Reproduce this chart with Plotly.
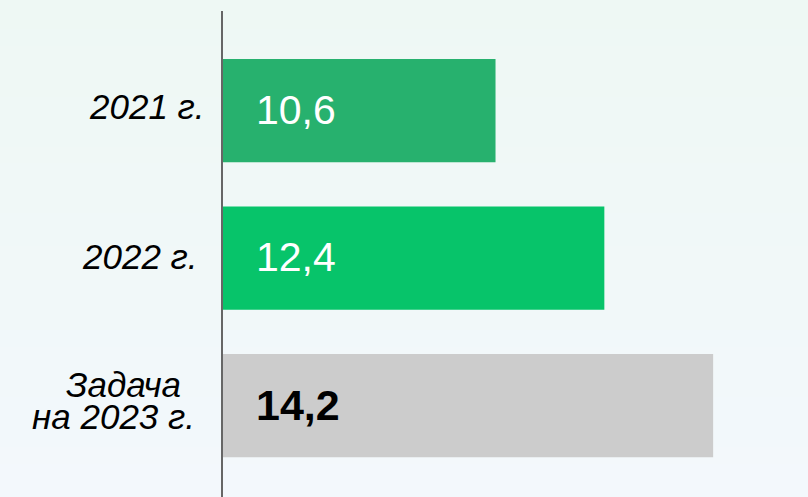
import plotly.graph_objects as go

# ---- data ----
categories = ["2021 г.", "2022 г.", "Задача<br>на 2023 г."]
values = [10.6, 12.4, 14.2]
value_labels = ["10,6", "12,4", "14,2"]

# ---- style ----
bar_colors = ["#27B16E", "#07C46A", "#CCCCCC"]
text_colors = ["#FFFFFF", "#FFFFFF", "#000000"]
text_weights = ["normal", "normal", "bold"]
text_sizes = [41, 41, 43]
# category label placement (pixel offsets from the axis / category centre), per line
label_xshift = [[-16], [-23], [-40, -26]]
label_yshift = [[4], [2], [21, -11]]

X_MIN, X_MAX = 6.092, 15.769
W, H = 808, 497
FONT = "Arial, Liberation Sans, sans-serif"

fig = go.Figure()
fig.add_trace(go.Bar(
    y=categories, x=values, orientation="h",
    marker=dict(color=bar_colors, line=dict(width=0)),
    hoverinfo="skip", showlegend=False,
))

# value labels inside the bars, anchored at the axis start
for cat, lab, col, wt, sz in zip(categories, value_labels, text_colors, text_weights, text_sizes):
    fig.add_annotation(
        x=X_MIN, y=cat, xref="x", yref="y", text=lab, showarrow=False,
        xanchor="left", yanchor="middle", xshift=31, yshift=1,
        font=dict(family=FONT, size=sz, color=col, weight=wt),
    )

# category labels (italic), one annotation per text line
for cat, xs, ys in zip(categories, label_xshift, label_yshift):
    for line, dx, dy in zip(cat.split("<br>"), xs, ys):
        fig.add_annotation(
            x=0, xref="paper", y=cat, yref="y", text=line, showarrow=False,
            xanchor="right", yanchor="middle", xshift=dx, yshift=dy,
            font=dict(family=FONT, size=35, color="#000000", style="italic"),
        )

# subtle vertical background gradient
top = (238, 248, 244)
bot = (243, 248, 252)
n = 30
for i in range(n):
    t = i / (n - 1)
    c = tuple(round(top[k] + (bot[k] - top[k]) * t) for k in range(3))
    y1 = 1.03 - i * (1.03 / n)
    y0 = y1 - 1.03 / n - 0.002
    fig.add_shape(type="rect", xref="paper", yref="paper", x0=-0.7, x1=1.02,
                  y0=y0, y1=y1, fillcolor="rgb(%d,%d,%d)" % c,
                  line=dict(width=0), layer="below")

fig.update_layout(
    width=W, height=H,
    margin=dict(l=223, r=0, t=11, b=0),
    paper_bgcolor="#EFF8F6", plot_bgcolor="rgba(0,0,0,0)",
    bargap=0.3,
    xaxis=dict(range=[X_MIN, X_MAX], visible=False, fixedrange=True),
    yaxis=dict(
        range=[2.620, -0.6746],
        showticklabels=False,
        showline=True, linecolor="#666666", linewidth=1.5,
        showgrid=False, zeroline=False, ticks="",
    ),
    font=dict(family=FONT),
)

fig.write_html(
    "out.html",
    config={"displayModeBar": False},
    post_script="document.body.style.margin='0';document.body.style.overflow='hidden';",
)
